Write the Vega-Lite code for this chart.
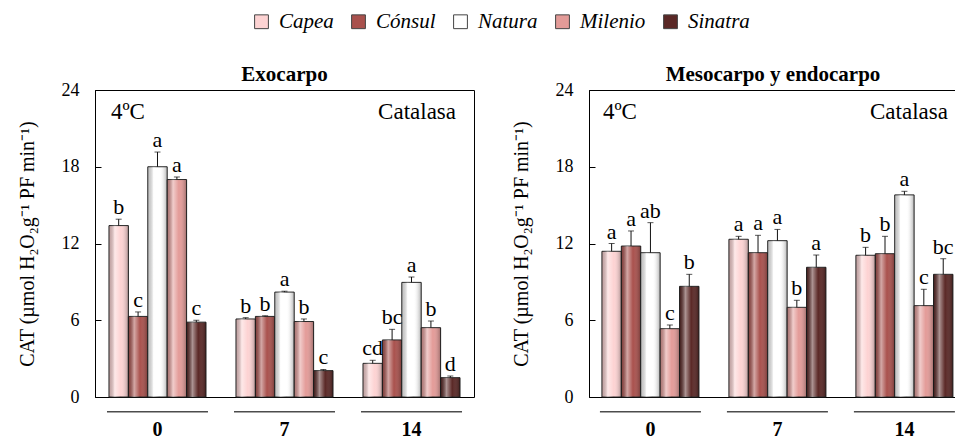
{
  "$schema": "https://vega.github.io/schema/vega-lite/v6.json",
  "background": "white",
  "padding": {"left": 16, "top": 11, "right": 0, "bottom": 0},
  "datasets": {
    "bars": [
      {"panel": "Exocarpo", "day": "0", "cultivar": "Capea", "CAT": 13.4, "top": 13.9, "letter": "b"},
      {"panel": "Exocarpo", "day": "0", "cultivar": "Cónsul", "CAT": 6.3, "top": 6.65, "letter": "c"},
      {"panel": "Exocarpo", "day": "0", "cultivar": "Natura", "CAT": 18.0, "top": 19.15, "letter": "a"},
      {"panel": "Exocarpo", "day": "0", "cultivar": "Milenio", "CAT": 17.0, "top": 17.2, "letter": "a"},
      {"panel": "Exocarpo", "day": "0", "cultivar": "Sinatra", "CAT": 5.85, "top": 6.0, "letter": "c"},
      {"panel": "Exocarpo", "day": "7", "cultivar": "Capea", "CAT": 6.1, "top": 6.2, "letter": "b"},
      {"panel": "Exocarpo", "day": "7", "cultivar": "Cónsul", "CAT": 6.3, "top": 6.35, "letter": "b"},
      {"panel": "Exocarpo", "day": "7", "cultivar": "Natura", "CAT": 8.2, "top": 8.27, "letter": "a"},
      {"panel": "Exocarpo", "day": "7", "cultivar": "Milenio", "CAT": 5.9, "top": 6.1, "letter": "b"},
      {"panel": "Exocarpo", "day": "7", "cultivar": "Sinatra", "CAT": 2.06, "top": 2.15, "letter": "c"},
      {"panel": "Exocarpo", "day": "14", "cultivar": "Capea", "CAT": 2.63, "top": 2.87, "letter": "cd"},
      {"panel": "Exocarpo", "day": "14", "cultivar": "Cónsul", "CAT": 4.46, "top": 5.29, "letter": "bc"},
      {"panel": "Exocarpo", "day": "14", "cultivar": "Natura", "CAT": 8.96, "top": 9.38, "letter": "a"},
      {"panel": "Exocarpo", "day": "14", "cultivar": "Milenio", "CAT": 5.42, "top": 5.94, "letter": "b"},
      {"panel": "Exocarpo", "day": "14", "cultivar": "Sinatra", "CAT": 1.51, "top": 1.64, "letter": "d"},
      {"panel": "Meso", "day": "0", "cultivar": "Capea", "CAT": 11.39, "top": 12.0, "letter": "a"},
      {"panel": "Meso", "day": "0", "cultivar": "Cónsul", "CAT": 11.8, "top": 12.98, "letter": "a"},
      {"panel": "Meso", "day": "0", "cultivar": "Natura", "CAT": 11.28, "top": 13.63, "letter": "ab"},
      {"panel": "Meso", "day": "0", "cultivar": "Milenio", "CAT": 5.34, "top": 5.63, "letter": "c"},
      {"panel": "Meso", "day": "0", "cultivar": "Sinatra", "CAT": 8.65, "top": 9.59, "letter": "b"},
      {"panel": "Meso", "day": "7", "cultivar": "Capea", "CAT": 12.33, "top": 12.56, "letter": "a"},
      {"panel": "Meso", "day": "7", "cultivar": "Cónsul", "CAT": 11.28, "top": 12.64, "letter": "a"},
      {"panel": "Meso", "day": "7", "cultivar": "Natura", "CAT": 12.22, "top": 13.1, "letter": "a"},
      {"panel": "Meso", "day": "7", "cultivar": "Milenio", "CAT": 7.01, "top": 7.56, "letter": "b"},
      {"panel": "Meso", "day": "7", "cultivar": "Sinatra", "CAT": 10.14, "top": 11.1, "letter": "a"},
      {"panel": "Meso", "day": "14", "cultivar": "Capea", "CAT": 11.08, "top": 11.7, "letter": "b"},
      {"panel": "Meso", "day": "14", "cultivar": "Cónsul", "CAT": 11.2, "top": 12.56, "letter": "b"},
      {"panel": "Meso", "day": "14", "cultivar": "Natura", "CAT": 15.8, "top": 16.08, "letter": "a"},
      {"panel": "Meso", "day": "14", "cultivar": "Milenio", "CAT": 7.14, "top": 8.42, "letter": "c"},
      {"panel": "Meso", "day": "14", "cultivar": "Sinatra", "CAT": 9.59, "top": 10.81, "letter": "bc"}
    ],
    "groups": [
      {"panel": "Exocarpo", "day": "0"}, {"panel": "Exocarpo", "day": "7"}, {"panel": "Exocarpo", "day": "14"},
      {"panel": "Meso", "day": "0"}, {"panel": "Meso", "day": "7"}, {"panel": "Meso", "day": "14"}
    ],
    "notes": [
      {"panel": "Exocarpo", "day": "0", "label": "4ºC", "side": "left"},
      {"panel": "Exocarpo", "day": "14", "label": "Catalasa", "side": "right"},
      {"panel": "Meso", "day": "0", "label": "4ºC", "side": "left"},
      {"panel": "Meso", "day": "14", "label": "Catalasa", "side": "right"}
    ]
  },
  "hconcat": [
    {
      "width": 379,
      "height": 307,
      "title": "Exocarpo",
      "layer": [
        {
          "data": {"name": "bars"},
          "transform": [{"filter": "datum.panel === 'Exocarpo'"}],
          "mark": {"type": "bar", "stroke": "#222", "strokeWidth": 1},
          "encoding": {
            "x": {"field": "day", "type": "ordinal", "sort": ["0", "7", "14"],
                  "scale": {"paddingInner": 0.236, "paddingOuter": 0.11, "align": 0.5},
                  "axis": {"title": null, "ticks": false, "domain": false, "labelAngle": 0, "labelPadding": 22}},
            "xOffset": {"field": "cultivar", "sort": ["Capea", "Cónsul", "Natura", "Milenio", "Sinatra"],
                        "scale": {"paddingInner": 0, "paddingOuter": 0}},
            "y": {"field": "CAT", "type": "quantitative", "scale": {"domain": [0, 24], "nice": false},
                  "axis": {"title": "CAT (µmol H₂O₂g⁻¹ PF min⁻¹)", "values": [0, 6, 12, 18, 24], "grid": false, "tickSize": -6, "labelPadding": 22}},
            "color": {"field": "cultivar", "type": "nominal",
                      "sort": ["Capea", "Cónsul", "Natura", "Milenio", "Sinatra"],
                      "scale": {"domain": ["Capea", "Cónsul", "Natura", "Milenio", "Sinatra"],
                                "range": ["#fdd3d3", "#a9514d", "#ffffff", "#e39b98", "#5a2826"]},
                      "legend": {"title": null, "orient": "none", "direction": "horizontal", "legendX": 156, "legendY": -79}}
          }
        },
        {
          "data": {"name": "bars"},
          "transform": [{"filter": "datum.panel === 'Exocarpo'"}],
          "mark": {"type": "bar", "stroke": null,
                   "fill": {"gradient": "linear", "x1": 0, "x2": 1, "y1": 0, "y2": 0,
                            "stops": [{"offset": 0, "color": "rgba(0,0,0,0.22)"}, {"offset": 0.3, "color": "rgba(255,255,255,0.5)"}, {"offset": 0.6, "color": "rgba(255,255,255,0)"}, {"offset": 1, "color": "rgba(0,0,0,0.3)"}]}},
          "encoding": {
            "x": {"field": "day", "type": "ordinal", "sort": ["0", "7", "14"]},
            "xOffset": {"field": "cultivar", "sort": ["Capea", "Cónsul", "Natura", "Milenio", "Sinatra"]},
            "y": {"field": "CAT", "type": "quantitative"}
          }
        },
        {
          "data": {"name": "bars"},
          "transform": [{"filter": "datum.panel === 'Exocarpo'"}],
          "mark": {"type": "rule", "color": "#111", "strokeWidth": 1},
          "encoding": {
            "x": {"field": "day", "type": "ordinal", "sort": ["0", "7", "14"]},
            "xOffset": {"field": "cultivar", "sort": ["Capea", "Cónsul", "Natura", "Milenio", "Sinatra"]},
            "y": {"field": "CAT", "type": "quantitative"},
            "y2": {"field": "top"}
          }
        },
        {
          "data": {"name": "bars"},
          "transform": [{"filter": "datum.panel === 'Exocarpo'"}],
          "mark": {"type": "tick", "orient": "horizontal", "color": "#111", "size": 6, "thickness": 1},
          "encoding": {
            "x": {"field": "day", "type": "ordinal", "sort": ["0", "7", "14"]},
            "xOffset": {"field": "cultivar", "sort": ["Capea", "Cónsul", "Natura", "Milenio", "Sinatra"]},
            "y": {"field": "top", "type": "quantitative"}
          }
        },
        {
          "data": {"name": "bars"},
          "transform": [{"filter": "datum.panel === 'Exocarpo'"}],
          "mark": {"type": "text", "font": "Liberation Serif", "fontSize": 22, "baseline": "alphabetic", "dy": -5, "color": "black"},
          "encoding": {
            "x": {"field": "day", "type": "ordinal", "sort": ["0", "7", "14"]},
            "xOffset": {"field": "cultivar", "sort": ["Capea", "Cónsul", "Natura", "Milenio", "Sinatra"]},
            "y": {"field": "top", "type": "quantitative"},
            "text": {"field": "letter"}
          }
        },
        {
          "data": {"name": "notes"},
          "transform": [{"filter": "datum.panel === 'Exocarpo' && datum.side === 'left'"}],
          "mark": {"type": "text", "font": "Liberation Serif", "fontSize": 23, "baseline": "alphabetic", "align": "left", "dx": 2, "color": "black"},
          "encoding": {
            "x": {"field": "day", "type": "ordinal", "sort": ["0", "7", "14"], "bandPosition": 0},
            "y": {"datum": 21.7, "type": "quantitative"},
            "text": {"field": "label"}
          }
        },
        {
          "data": {"name": "notes"},
          "transform": [{"filter": "datum.panel === 'Exocarpo' && datum.side === 'right'"}],
          "mark": {"type": "text", "font": "Liberation Serif", "fontSize": 23, "baseline": "alphabetic", "align": "right", "dx": -4, "color": "black"},
          "encoding": {
            "x": {"field": "day", "type": "ordinal", "sort": ["0", "7", "14"], "bandPosition": 1},
            "y": {"datum": 21.7, "type": "quantitative"},
            "text": {"field": "label"}
          }
        },
        {
          "data": {"name": "groups"},
          "transform": [{"filter": "datum.panel === 'Exocarpo'"}],
          "mark": {"type": "tick", "orient": "horizontal", "color": "black", "size": 101, "thickness": 1.5, "clip": false},
          "encoding": {
            "x": {"field": "day", "type": "ordinal", "sort": ["0", "7", "14"]},
            "y": {"datum": -1.15, "type": "quantitative"}
          }
        }
      ]
    },
    {
      "width": 368,
      "height": 307,
      "title": "Mesocarpo y endocarpo",
      "layer": [
        {
          "data": {"name": "bars"},
          "transform": [{"filter": "datum.panel === 'Meso'"}],
          "mark": {"type": "bar", "stroke": "#222", "strokeWidth": 1},
          "encoding": {
            "x": {"field": "day", "type": "ordinal", "sort": ["0", "7", "14"],
                  "scale": {"paddingInner": 0.236, "paddingOuter": 0.067, "align": 0.76},
                  "axis": {"title": null, "ticks": false, "domain": false, "labelAngle": 0, "labelPadding": 22}},
            "xOffset": {"field": "cultivar", "sort": ["Capea", "Cónsul", "Natura", "Milenio", "Sinatra"],
                        "scale": {"paddingInner": 0, "paddingOuter": 0}},
            "y": {"field": "CAT", "type": "quantitative", "scale": {"domain": [0, 24], "nice": false},
                  "axis": {"title": "CAT (µmol H₂O₂g⁻¹ PF min⁻¹)", "values": [0, 6, 12, 18, 24], "grid": false, "tickSize": -6, "labelPadding": 22}},
            "color": {"field": "cultivar", "type": "nominal",
                      "sort": ["Capea", "Cónsul", "Natura", "Milenio", "Sinatra"]}
          }
        },
        {
          "data": {"name": "bars"},
          "transform": [{"filter": "datum.panel === 'Meso'"}],
          "mark": {"type": "bar", "stroke": null,
                   "fill": {"gradient": "linear", "x1": 0, "x2": 1, "y1": 0, "y2": 0,
                            "stops": [{"offset": 0, "color": "rgba(0,0,0,0.22)"}, {"offset": 0.3, "color": "rgba(255,255,255,0.5)"}, {"offset": 0.6, "color": "rgba(255,255,255,0)"}, {"offset": 1, "color": "rgba(0,0,0,0.3)"}]}},
          "encoding": {
            "x": {"field": "day", "type": "ordinal", "sort": ["0", "7", "14"]},
            "xOffset": {"field": "cultivar", "sort": ["Capea", "Cónsul", "Natura", "Milenio", "Sinatra"]},
            "y": {"field": "CAT", "type": "quantitative"}
          }
        },
        {
          "data": {"name": "bars"},
          "transform": [{"filter": "datum.panel === 'Meso'"}],
          "mark": {"type": "rule", "color": "#111", "strokeWidth": 1},
          "encoding": {
            "x": {"field": "day", "type": "ordinal", "sort": ["0", "7", "14"]},
            "xOffset": {"field": "cultivar", "sort": ["Capea", "Cónsul", "Natura", "Milenio", "Sinatra"]},
            "y": {"field": "CAT", "type": "quantitative"},
            "y2": {"field": "top"}
          }
        },
        {
          "data": {"name": "bars"},
          "transform": [{"filter": "datum.panel === 'Meso'"}],
          "mark": {"type": "tick", "orient": "horizontal", "color": "#111", "size": 6, "thickness": 1},
          "encoding": {
            "x": {"field": "day", "type": "ordinal", "sort": ["0", "7", "14"]},
            "xOffset": {"field": "cultivar", "sort": ["Capea", "Cónsul", "Natura", "Milenio", "Sinatra"]},
            "y": {"field": "top", "type": "quantitative"}
          }
        },
        {
          "data": {"name": "bars"},
          "transform": [{"filter": "datum.panel === 'Meso'"}],
          "mark": {"type": "text", "font": "Liberation Serif", "fontSize": 22, "baseline": "alphabetic", "dy": -5, "color": "black"},
          "encoding": {
            "x": {"field": "day", "type": "ordinal", "sort": ["0", "7", "14"]},
            "xOffset": {"field": "cultivar", "sort": ["Capea", "Cónsul", "Natura", "Milenio", "Sinatra"]},
            "y": {"field": "top", "type": "quantitative"},
            "text": {"field": "letter"}
          }
        },
        {
          "data": {"name": "notes"},
          "transform": [{"filter": "datum.panel === 'Meso' && datum.side === 'left'"}],
          "mark": {"type": "text", "font": "Liberation Serif", "fontSize": 23, "baseline": "alphabetic", "align": "left", "dx": 1, "color": "black"},
          "encoding": {
            "x": {"field": "day", "type": "ordinal", "sort": ["0", "7", "14"], "bandPosition": 0},
            "y": {"datum": 21.7, "type": "quantitative"},
            "text": {"field": "label"}
          }
        },
        {
          "data": {"name": "notes"},
          "transform": [{"filter": "datum.panel === 'Meso' && datum.side === 'right'"}],
          "mark": {"type": "text", "font": "Liberation Serif", "fontSize": 23, "baseline": "alphabetic", "align": "right", "dx": -5, "color": "black"},
          "encoding": {
            "x": {"field": "day", "type": "ordinal", "sort": ["0", "7", "14"], "bandPosition": 1},
            "y": {"datum": 21.7, "type": "quantitative"},
            "text": {"field": "label"}
          }
        },
        {
          "data": {"name": "groups"},
          "transform": [{"filter": "datum.panel === 'Meso'"}],
          "mark": {"type": "tick", "orient": "horizontal", "color": "black", "size": 101, "thickness": 1.5, "clip": false},
          "encoding": {
            "x": {"field": "day", "type": "ordinal", "sort": ["0", "7", "14"]},
            "y": {"datum": -1.15, "type": "quantitative"}
          }
        }
      ]
    }
  ],
  "spacing": 35,
  "config": {
    "font": "Liberation Serif",
    "view": {"stroke": "black", "strokeWidth": 1},
    "title": {"font": "Liberation Serif", "fontSize": 21, "fontWeight": "bold", "color": "black", "offset": -4, "anchor": "middle", "frame": "group"},
    "axis": {
      "labelFont": "Liberation Serif", "labelFontSize": 18, "labelColor": "black",
      "titleFont": "Liberation Serif", "titleFontSize": 20, "titleFontWeight": "normal", "titleColor": "black",
      "domainColor": "black", "tickColor": "black"
    },
    "axisX": {"labelFontWeight": "bold", "labelFontSize": 20},
    "axisY": {"titlePadding": 24},
    "legend": {
      "labelFont": "Liberation Serif", "labelFontSize": 21, "labelFontStyle": "italic", "labelColor": "black",
      "symbolType": "square", "symbolSize": 190, "symbolStrokeColor": "#444", "symbolStrokeWidth": 1,
      "columnPadding": 14, "labelOffset": 7
    }
  }
}
